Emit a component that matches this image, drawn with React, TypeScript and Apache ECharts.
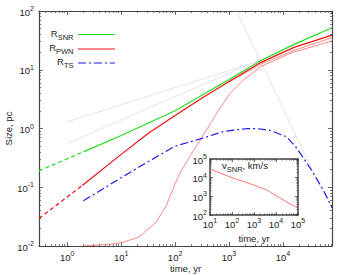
import React, { useEffect, useRef } from "react";
import * as echarts from "echarts";

const FONT = "'Liberation Sans', Arial, Helvetica, sans-serif";

// ---- Main panel data (time in yr, size in pc) ----
const snrExtrapTime = [0.3, 2];
const snrExtrapSize = [0.19, 0.4];
const snrTime = [2, 10, 100, 1000, 4000, 16000, 81000];
const snrSize = [0.4, 0.76, 2.0, 6.8, 14.5, 27, 52];

const pwnExtrapTime = [0.3, 1.9];
const pwnExtrapSize = [0.0295, 0.107];
const pwnTime = [1.9, 10, 32, 100, 316, 1000, 4000, 16000, 81000];
const pwnSize = [0.107, 0.363, 0.83, 1.66, 3.31, 6.31, 13.5, 24, 38.9];

const tsTime = [2, 10, 32, 100, 316, 800, 1500, 2240, 3500, 5750, 11750, 17800, 33900, 56200, 81000];
const tsSize = [0.059, 0.145, 0.275, 0.5, 0.68, 0.89, 0.96, 1.0, 0.99, 0.93, 0.72, 0.47, 0.195, 0.089, 0.045];

const thinATime = [2, 6.3, 10.5, 21, 44, 68, 110, 132, 200, 330, 590, 1050, 1820, 4000, 14500, 81000];
const thinASize = [0.01, 0.0107, 0.0115, 0.0141, 0.0251, 0.0479, 0.141, 0.195, 0.37, 0.759, 1.82, 3.98, 6.61, 11.5, 19.5, 30.9];
const thinBTime = [1000, 4000, 16000, 81000];
const thinBSize = [6.17, 12.6, 21.4, 35.1];

const gray1Time = [1, 4000];
const gray1Size = [1.3, 14.5];
const gray2Time = [1, 4000];
const gray2Size = [0.557, 15.1];
const gray3Time = [1380, 56000];
const gray3Size = [100, 0.079];

// ---- Inset data (time in yr, v in km/s) ----
const vTime = [10, 112, 912, 3700, 20900, 100000];
const vSnr = [28800, 9550, 4170, 2240, 646, 229];

// tick exponents
const mainXExp = [0, 1, 2, 3, 4];
const mainYExp = [-2, -1, 0, 1, 2];
const insetXExp = [1, 2, 3, 4, 5];
const insetYExp = [2, 3, 4, 5];

const L = Math.log10;
const pairs = (t: number[], v: number[]) => t.map((x, i) => [L(x), L(v[i])]);

function minors(lo: number, hi: number) {
  const out: number[] = [];
  for (let d = Math.floor(lo) - 1; d <= Math.ceil(hi); d++) {
    for (let m = 2; m <= 9; m++) {
      const v = d + L(m);
      if (v > lo + 1e-6 && v < hi - 1e-6) out.push(v);
    }
  }
  return out;
}

const supRich = {
  b: { fontSize: 9.5, verticalAlign: "bottom", fontFamily: FONT, color: "#222" },
  s: { fontSize: 7, verticalAlign: "bottom", padding: [0, 0, 5, 0], fontFamily: FONT, color: "#222" },
};
const fmt = (v: number) => `{b|10}{s|${Math.round(v)}}`;

function axes(
  dim: "x" | "y",
  grid: number,
  min: number,
  max: number,
  majors: number[],
  extra: any,
  majLen: number,
  minLen: number,
  lineW: number
) {
  const pos = dim === "x" ? ["bottom", "top"] : ["left", "right"];
  const mins = minors(min, max);
  const base = {
    type: "value",
    gridIndex: grid,
    min,
    max,
    splitLine: { show: false },
  };
  const line = { show: true, onZero: false, lineStyle: { color: "#444", width: lineW } };
  const noLine = { show: false, onZero: false };
  return [
    {
      ...base,
      position: pos[0],
      axisLine: line,
      axisTick: { show: true, inside: true, length: majLen, customValues: majors, lineStyle: { color: "#444", width: 0.8 } },
      axisLabel: { show: true, customValues: majors, formatter: fmt, rich: supRich, ...extra.label },
      nameMoveOverlap: false,
      ...extra.name,
    },
    {
      ...base,
      position: pos[0],
      axisLine: noLine,
      axisTick: { show: true, inside: true, length: minLen, customValues: mins, lineStyle: { color: "#444", width: 0.7 } },
      axisLabel: { show: false },
    },
    {
      ...base,
      position: pos[1],
      axisLine: line,
      axisTick: { show: true, inside: true, length: majLen, customValues: majors, lineStyle: { color: "#444", width: 0.8 } },
      axisLabel: { show: false },
    },
    {
      ...base,
      position: pos[1],
      axisLine: noLine,
      axisTick: { show: true, inside: true, length: minLen, customValues: mins, lineStyle: { color: "#444", width: 0.7 } },
      axisLabel: { show: false },
    },
  ];
}

const nameStyle = { fontSize: 9.5, fontFamily: FONT, color: "#222" };

export default function App() {
  const ref = useRef<HTMLDivElement>(null);
  useEffect(() => {
    if (!ref.current) return;
    const chart = echarts.init(ref.current, undefined, { renderer: "svg" });
    const xMin = L(0.3);
    const xMax = L(81000);

    const xAxes = [
      ...axes("x", 0, xMin, xMax, mainXExp, {
        label: { margin: 4 },
        name: { name: "time, yr", nameLocation: "middle", nameGap: 17, nameTextStyle: nameStyle },
      }, 4, 2, 1.2),
      ...axes("x", 1, 1, 5, insetXExp, {
        label: { margin: 2 },
        name: { name: "time, yr", nameLocation: "middle", nameGap: 18, nameTextStyle: nameStyle },
      }, 3, 1.5, 1.5),
    ];
    const yAxes = [
      ...axes("y", 0, -2, 2, mainYExp, {
        label: { margin: 5 },
        name: { name: "Size, pc", nameLocation: "middle", nameGap: 26, nameRotate: 90, nameTextStyle: nameStyle },
      }, 4, 2, 1.2),
      ...axes("y", 1, 2, 5, insetYExp, { label: { margin: 3 }, name: {} }, 3, 1.5, 1.5),
    ];

    const ln = (data: number[][], color: string, width: number, type: any = "solid", grid = 0, z = 2) => ({
      type: "line",
      xAxisIndex: grid === 0 ? 0 : 4,
      yAxisIndex: grid === 0 ? 0 : 4,
      data,
      showSymbol: false,
      symbol: "none",
      smooth: false,
      z,
      lineStyle: { color, width, type },
      silent: true,
    });

    const green = "#22dd22";
    const red = "#ee1111";
    const blue = "#1a1aee";
    const thinRed = "#ff5555";
    const gray = "#dcdcdc";
    const dashDot = [8, 3, 2, 3];

    chart.setOption({
      animation: false,
      grid: [
        { left: 39, top: 11, width: 293, height: 235, containLabel: false, outerBoundsMode: "none" },
        { left: 210, top: 159, width: 88, height: 56, show: true, backgroundColor: "#fff", borderWidth: 0, z: 5, containLabel: false, outerBoundsMode: "none" },
      ],
      xAxis: xAxes.map((a, i) => ({ ...a, z: i >= 4 ? 6 : 1 })),
      yAxis: yAxes.map((a, i) => ({ ...a, z: i >= 4 ? 6 : 1 })),
      series: [
        ln(pairs(gray1Time, gray1Size), gray, 0.8, "solid", 0, 1),
        ln(pairs(gray2Time, gray2Size), gray, 0.8, "solid", 0, 1),
        ln(pairs(gray3Time, gray3Size), gray, 0.8, "solid", 0, 1),
        ln(pairs(thinATime, thinASize), thinRed, 0.7),
        ln(pairs(thinBTime, thinBSize), thinRed, 0.7),
        ln(pairs(snrExtrapTime, snrExtrapSize), green, 1.2, [4, 3]),
        ln(pairs(snrTime, snrSize), green, 1.2),
        ln(pairs(pwnExtrapTime, pwnExtrapSize), red, 1.2, [4, 3]),
        ln(pairs(pwnTime, pwnSize), red, 1.2),
        ln(pairs(tsTime, tsSize), blue, 1.2, dashDot),
        ln(pairs(vTime, vSnr), thinRed, 0.8, "solid", 1, 7),
      ],
      graphic: [
        ...[
          { label: "SNR", y: 34.5, color: green, dash: null },
          { label: "PWN", y: 49, color: red, dash: null },
          { label: "TS", y: 63, color: blue, dash: dashDot },
        ].flatMap((e) => [
          {
            type: "text",
            x: 73.5,
            y: e.y,
            z: 10,
            style: {
              text: `{r|R}{u|${e.label}}`,
              align: "right",
              verticalAlign: "middle",
              rich: {
                r: { fontSize: 9.5, lineHeight: 13, verticalAlign: "top", fontFamily: FONT, fill: "#222" },
                u: { fontSize: 7.5, lineHeight: 7, verticalAlign: "bottom", fontFamily: FONT, fill: "#222" },
              },
            },
          },
          {
            type: "line",
            z: 10,
            shape: { x1: 78, y1: e.y, x2: 115, y2: e.y },
            style: { stroke: e.color, lineWidth: 1.2, lineDash: e.dash || undefined },
          },
        ]),
        {
          type: "text",
          x: 222,
          y: 166.5,
          z: 100,
          style: {
            text: "{r|v}{u|SNR}{r|, km/s}",
            align: "left",
            verticalAlign: "middle",
            rich: {
              r: { fontSize: 9.5, lineHeight: 13, verticalAlign: "top", fontFamily: FONT, fill: "#222" },
              u: { fontSize: 7.5, lineHeight: 7, verticalAlign: "bottom", fontFamily: FONT, fill: "#222" },
            },
          },
        },
      ],
    });
    return () => chart.dispose();
  }, []);
  return <div ref={ref} style={{ width: 350, height: 275, position: "absolute", left: 0, top: 0, background: "#fff" }} />;
}
